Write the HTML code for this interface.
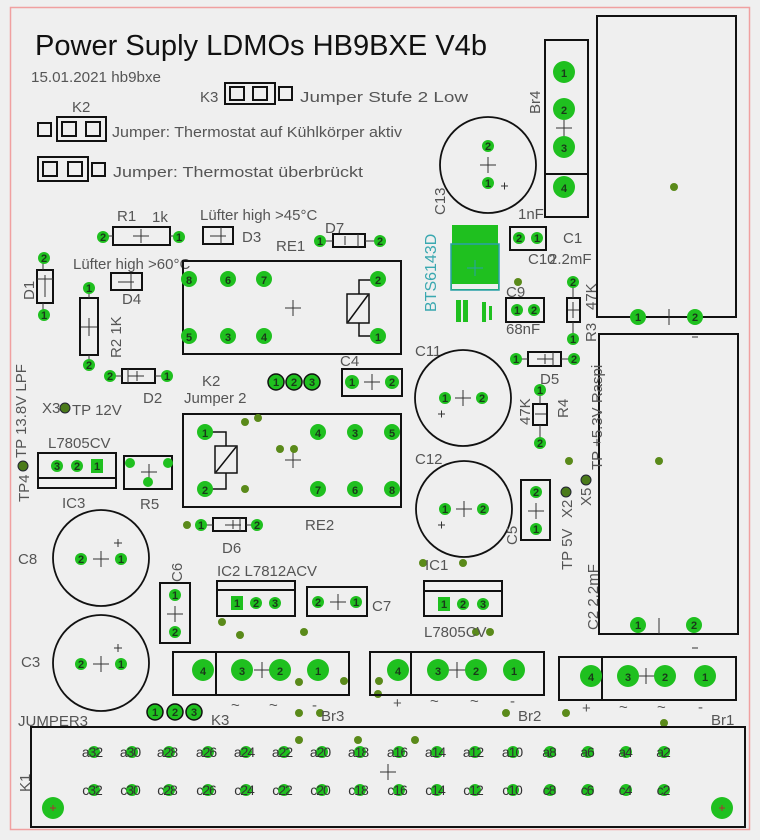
<!DOCTYPE html>
<html><head><meta charset="utf-8"><style>
html,body{margin:0;padding:0;background:#efefef;}
svg{display:block;font-family:"Liberation Sans",sans-serif;}
.o{fill:none;stroke:#111;stroke-width:2}
.t{fill:#555;font-size:15px}
.p{fill:#1fc01f}
.n{fill:#1a3a1a;font-size:11px;font-weight:bold;text-anchor:middle}
.d{fill:#5a8a1a}
.x{stroke:#333;stroke-width:1;fill:none}
.k{fill:#333;font-size:14px;text-anchor:middle;letter-spacing:-1px}
</style></head><body>
<svg width="760" height="840" viewBox="0 0 760 840" xmlns="http://www.w3.org/2000/svg">
<rect width="760" height="840" fill="#efefef"/>
<rect x="10.5" y="7.5" width="739" height="822" fill="none" stroke="#f0a0a0" stroke-width="1.5"/>

<text x="35" y="55" font-size="29" fill="#111" textLength="452" lengthAdjust="spacingAndGlyphs">Power Suply LDMOs HB9BXE V4b</text>
<text x="31" y="82" class="t" font-size="14" textLength="130" lengthAdjust="spacingAndGlyphs">15.01.2021 hb9bxe</text>

<!-- K3 jumper top -->
<text x="200" y="102" class="t" font-size="16">K3</text>
<rect x="225" y="83" width="50" height="21" class="o"/>
<rect x="230" y="87" width="14" height="13" class="o"/><rect x="253" y="87" width="14" height="13" class="o"/><rect x="279" y="87" width="13" height="13" class="o"/>
<text x="300" y="102" class="t" font-size="16" textLength="168" lengthAdjust="spacingAndGlyphs">Jumper  Stufe 2 Low</text>

<text x="72" y="112" class="t" font-size="16">K2</text>
<rect x="38" y="123" width="13" height="13" class="o"/>
<rect x="57" y="117" width="49" height="24" class="o"/>
<rect x="62" y="122" width="14" height="14" class="o"/><rect x="86" y="122" width="14" height="14" class="o"/>
<text x="112" y="137" class="t" font-size="16" textLength="290" lengthAdjust="spacingAndGlyphs">Jumper: Thermostat auf Kühlkörper aktiv</text>

<rect x="38" y="157" width="50" height="24" class="o"/>
<rect x="43" y="162" width="14" height="14" class="o"/><rect x="68" y="162" width="14" height="14" class="o"/>
<rect x="92" y="163" width="13" height="13" class="o"/>
<text x="113" y="177" class="t" font-size="16" textLength="250" lengthAdjust="spacingAndGlyphs">Jumper: Thermostat überbrückt</text>

<!-- R1 -->
<text x="117" y="221" class="t" font-size="16">R1</text><text x="152" y="222" class="t" font-size="14">1k</text>
<rect x="113" y="227" width="57" height="18" class="o"/>
<path d="M103 236h10M170 236h9M133 236h16M141 229v14" class="x"/>
<circle cx="103" cy="237" r="6" class="p"/><text x="103" y="241" class="n">2</text>
<circle cx="179" cy="237" r="6" class="p"/><text x="179" y="241" class="n">1</text>
<!-- D3 -->
<text x="200" y="220" class="t" font-size="11">Lüfter high &gt;45°C</text>
<rect x="203" y="227" width="30" height="17" class="o"/><path d="M221 227v17M210 236h16" class="x"/>
<text x="242" y="242" class="t" font-size="11">D3</text>
<text x="276" y="251" class="t" font-size="16">RE1</text>
<!-- D7 -->
<text x="325" y="233" class="t" font-size="16">D7</text>
<rect x="333" y="234" width="32" height="13" class="o"/><path d="M320 241h13M365 241h15M358 234v13M345 236v9" class="x"/>
<circle cx="320" cy="241" r="6" class="p"/><text x="320" y="245" class="n">1</text>
<circle cx="380" cy="241" r="6" class="p"/><text x="380" y="245" class="n">2</text>

<!-- D1 -->
<rect x="37" y="270" width="16" height="33" class="o"/><path d="M43 258v12M43 303v12M37 279h16M45 275v22" class="x"/>
<circle cx="44" cy="258" r="6" class="p"/><text x="44" y="262" class="n">2</text>
<circle cx="44" cy="315" r="6" class="p"/><text x="44" y="319" class="n">1</text>
<text transform="translate(34,300) rotate(-90)" class="t" font-size="15">D1</text>
<!-- D4 -->
<text x="73" y="269" class="t" font-size="11">Lüfter high &gt;60°C</text>
<rect x="111" y="273" width="31" height="17" class="o"/><path d="M131 273v17M118 282h16" class="x"/>
<text x="122" y="304" class="t" font-size="11">D4</text>
<!-- R2 -->
<rect x="80" y="298" width="18" height="57" class="o"/><path d="M89 288v10M89 355v10M81 327h16M89 318v18" class="x"/>
<circle cx="89" cy="288" r="6" class="p"/><text x="89" y="292" class="n">1</text>
<circle cx="89" cy="365" r="6" class="p"/><text x="89" y="369" class="n">2</text>
<text transform="translate(121,358) rotate(-90)" class="t" font-size="15">R2 1K</text>

<!-- RE1 -->
<rect x="183" y="261" width="218" height="93" class="o"/>
<path d="M285 308h16M293 300v16" class="x"/>
<g><circle cx="189" cy="279" r="8" class="p"/><text x="189" y="284" class="n" font-size="13">8</text>
<circle cx="228" cy="279" r="8" class="p"/><text x="228" y="284" class="n" font-size="13">6</text>
<circle cx="264" cy="279" r="8" class="p"/><text x="264" y="284" class="n" font-size="13">7</text>
<circle cx="189" cy="336" r="8" class="p"/><text x="189" y="341" class="n" font-size="13">5</text>
<circle cx="228" cy="336" r="8" class="p"/><text x="228" y="341" class="n" font-size="13">3</text>
<circle cx="264" cy="336" r="8" class="p"/><text x="264" y="341" class="n" font-size="13">4</text></g>
<rect x="347" y="294" width="22" height="29" fill="none" stroke="#111" stroke-width="1.5"/><path d="M348 322l20-27M359 294v-14h18M359 323v13h18" fill="none" stroke="#111" stroke-width="1.5"/>
<circle cx="378" cy="279" r="8" class="p"/><text x="378" y="284" class="n" font-size="13">2</text>
<circle cx="378" cy="336" r="8" class="p"/><text x="378" y="341" class="n" font-size="13">1</text>

<!-- D2 -->
<rect x="122" y="369" width="33" height="14" class="o"/><path d="M110 376h12M155 376h12M128 369v14M128 376h16M137 371v10" class="x"/>
<circle cx="110" cy="376" r="6" class="p"/><text x="110" y="380" class="n">2</text>
<circle cx="167" cy="376" r="6" class="p"/><text x="167" y="380" class="n">1</text>
<text x="143" y="403" class="t" font-size="16">D2</text>
<text x="202" y="386" class="t" font-size="16">K2</text>
<text x="184" y="403" class="t" font-size="16">Jumper 2</text>
<g stroke="#111" stroke-width="1.5"><circle cx="276" cy="382" r="8" class="p"/><circle cx="294" cy="382" r="8" class="p"/><circle cx="312" cy="382" r="8" class="p"/></g>
<text x="276" y="386" class="n">1</text><text x="294" y="386" class="n">2</text><text x="312" y="386" class="n">3</text>
<!-- C4 -->
<text x="340" y="366" class="t" font-size="16">C4</text>
<rect x="342" y="369" width="60" height="27" class="o"/><path d="M364 382h16M372 374v16" class="x"/>
<circle cx="352" cy="382" r="7" class="p"/><text x="352" y="386" class="n">1</text>
<circle cx="392" cy="382" r="7" class="p"/><text x="392" y="386" class="n">2</text>

<!-- left TPs -->
<text transform="translate(26,458) rotate(-90)" class="t" font-size="15">TP 13.8V LPF</text>
<text x="42" y="413" class="t" font-size="11">X3</text>
<circle cx="65" cy="408" r="5" fill="#4a7a1a" stroke="#223" stroke-width="1"/>
<text x="72" y="415" class="t" font-size="16">TP 12V</text>
<circle cx="23" cy="466" r="5" fill="#4a7a1a" stroke="#223" stroke-width="1"/>
<text transform="translate(29,502) rotate(-90)" class="t" font-size="11">TP4</text>
<!-- IC3 -->
<text x="48" y="448" class="t" font-size="16">L7805CV</text>
<rect x="38" y="453" width="78" height="35" class="o"/><path d="M38 478h78" class="o"/>
<circle cx="57" cy="466" r="6" class="p"/><text x="57" y="470" class="n">3</text>
<circle cx="77" cy="466" r="6" class="p"/><text x="77" y="470" class="n">2</text>
<rect x="91" y="459" width="12" height="14" class="p"/><text x="97" y="470" class="n">1</text>
<text x="62" y="508" class="t" font-size="16">IC3</text>
<!-- R5 -->
<rect x="124" y="456" width="48" height="33" class="o"/><path d="M141 472h16M149 464v16" class="x"/>
<circle cx="130" cy="463" r="5" class="p"/><circle cx="168" cy="463" r="5" class="p"/><circle cx="148" cy="482" r="5" class="p"/>
<text x="140" y="509" class="t" font-size="13">R5</text>

<!-- RE2 -->
<rect x="183" y="414" width="218" height="93" class="o"/>
<path d="M285 460h16M293 452v16" class="x"/>
<rect x="215" y="446" width="22" height="27" fill="none" stroke="#111" stroke-width="1.5"/><path d="M216 472l20-25M226 446v-14h-20M226 473v16h-20" fill="none" stroke="#111" stroke-width="1.5"/>
<g font-size="13">
<circle cx="205" cy="432" r="8" class="p"/><text x="205" y="437" class="n" font-size="13">1</text>
<circle cx="205" cy="489" r="8" class="p"/><text x="205" y="494" class="n" font-size="13">2</text>
<circle cx="318" cy="432" r="8" class="p"/><text x="318" y="437" class="n" font-size="13">4</text>
<circle cx="355" cy="432" r="8" class="p"/><text x="355" y="437" class="n" font-size="13">3</text>
<circle cx="392" cy="432" r="8" class="p"/><text x="392" y="437" class="n" font-size="13">5</text>
<circle cx="318" cy="489" r="8" class="p"/><text x="318" y="494" class="n" font-size="13">7</text>
<circle cx="355" cy="489" r="8" class="p"/><text x="355" y="494" class="n" font-size="13">6</text>
<circle cx="392" cy="489" r="8" class="p"/><text x="392" y="494" class="n" font-size="13">8</text></g>
<g class="d"><circle cx="245" cy="422" r="4"/><circle cx="258" cy="418" r="4"/><circle cx="280" cy="449" r="4"/><circle cx="294" cy="449" r="4"/><circle cx="245" cy="489" r="4"/><circle cx="187" cy="525" r="4"/></g>
<text x="305" y="530" class="t" font-size="16">RE2</text>
<!-- D6 -->
<rect x="213" y="518" width="33" height="13" class="o"/><path d="M200 525h13M246 525h11M240 518v13M225 525h16M233 520v9" class="x"/>
<circle cx="201" cy="525" r="6" class="p"/><text x="201" y="529" class="n">1</text>
<circle cx="257" cy="525" r="6" class="p"/><text x="257" y="529" class="n">2</text>
<text x="222" y="553" class="t" font-size="16">D6</text>

<!-- C8, C3 -->
<circle cx="101" cy="558" r="48" fill="none" stroke="#111" stroke-width="1.8"/>
<path d="M93 559h16M101 551v16M114 543h8M118 539v8" class="x"/>
<circle cx="81" cy="559" r="6" class="p"/><text x="81" y="563" class="n">2</text>
<circle cx="121" cy="559" r="6" class="p"/><text x="121" y="563" class="n">1</text>
<text x="18" y="564" class="t" font-size="16">C8</text>
<circle cx="101" cy="663" r="48" fill="none" stroke="#111" stroke-width="1.8"/>
<path d="M93 664h16M101 656v16M114 648h8M118 644v8" class="x"/>
<circle cx="81" cy="664" r="6" class="p"/><text x="81" y="668" class="n">2</text>
<circle cx="121" cy="664" r="6" class="p"/><text x="121" y="668" class="n">1</text>
<text x="21" y="667" class="t" font-size="16">C3</text>
<!-- C6 -->
<text transform="translate(182,582) rotate(-90)" class="t" font-size="16">C6</text>
<rect x="160" y="583" width="30" height="60" class="o"/><path d="M167 614h16M175 606v16" class="x"/>
<circle cx="175" cy="595" r="6" class="p"/><text x="175" y="599" class="n">1</text>
<circle cx="175" cy="632" r="6" class="p"/><text x="175" y="636" class="n">2</text>
<!-- IC2 -->
<text x="217" y="576" class="t" font-size="16">IC2 L7812ACV</text>
<rect x="217" y="581" width="78" height="35" class="o"/><path d="M217 590h78" class="o"/>
<rect x="231" y="596" width="12" height="14" class="p"/><text x="237" y="607" class="n">1</text>
<circle cx="256" cy="603" r="6" class="p"/><text x="256" y="607" class="n">2</text>
<circle cx="275" cy="603" r="6" class="p"/><text x="275" y="607" class="n">3</text>
<!-- C7 -->
<rect x="307" y="587" width="60" height="29" class="o"/><path d="M330 602h16M338 594v16" class="x"/>
<circle cx="318" cy="602" r="6" class="p"/><text x="318" y="606" class="n">2</text>
<circle cx="356" cy="602" r="6" class="p"/><text x="356" y="606" class="n">1</text>
<text x="372" y="611" class="t" font-size="16">C7</text>
<g class="d"><circle cx="222" cy="622" r="4"/><circle cx="240" cy="635" r="4"/><circle cx="304" cy="632" r="4"/><circle cx="299" cy="682" r="4"/><circle cx="344" cy="681" r="4"/><circle cx="379" cy="681" r="4"/><circle cx="378" cy="694" r="4"/><circle cx="299" cy="713" r="4"/><circle cx="320" cy="713" r="4"/><circle cx="299" cy="740" r="4"/><circle cx="358" cy="740" r="4"/><circle cx="415" cy="740" r="4"/><circle cx="506" cy="713" r="4"/><circle cx="566" cy="713" r="4"/><circle cx="664" cy="723" r="4"/><circle cx="423" cy="563" r="4"/><circle cx="463" cy="563" r="4"/><circle cx="476" cy="632" r="4"/><circle cx="490" cy="632" r="4"/><circle cx="569" cy="461" r="4"/><circle cx="518" cy="282" r="4"/><circle cx="659" cy="461" r="4"/><circle cx="674" cy="187" r="4"/></g>

<!-- Br3 -->
<rect x="173" y="652" width="176" height="43" class="o"/><path d="M216 652v43" class="o"/>
<path d="M254 670h16M262 662v16" class="x"/>
<circle cx="203" cy="670" r="11" class="p"/><text x="203" y="675" class="n" font-size="13">4</text>
<circle cx="242" cy="670" r="11" class="p"/><text x="242" y="675" class="n" font-size="13">3</text>
<circle cx="280" cy="670" r="11" class="p"/><text x="280" y="675" class="n" font-size="13">2</text>
<circle cx="318" cy="670" r="11" class="p"/><text x="318" y="675" class="n" font-size="13">1</text>
<text x="231" y="710" class="t" font-size="14">~</text><text x="269" y="710" class="t" font-size="14">~</text><text x="312" y="710" class="t" font-size="14">-</text>
<text x="321" y="721" class="t" font-size="16">Br3</text>
<!-- K3 bottom -->
<g stroke="#111" stroke-width="1.5"><circle cx="155" cy="712" r="8" class="p"/><circle cx="175" cy="712" r="8" class="p"/><circle cx="194" cy="712" r="8" class="p"/></g>
<text x="155" y="716" class="n">1</text><text x="175" y="716" class="n">2</text><text x="194" y="716" class="n">3</text>
<text x="211" y="725" class="t" font-size="16">K3</text>
<text x="18" y="726" class="t" font-size="16">JUMPER3</text>

<!-- Br2 -->
<rect x="370" y="652" width="174" height="43" class="o"/><path d="M411 652v43" class="o"/>
<path d="M449 670h16M457 662v16" class="x"/>
<circle cx="398" cy="670" r="11" class="p"/><text x="398" y="675" class="n" font-size="13">4</text>
<circle cx="438" cy="670" r="11" class="p"/><text x="438" y="675" class="n" font-size="13">3</text>
<circle cx="476" cy="670" r="11" class="p"/><text x="476" y="675" class="n" font-size="13">2</text>
<circle cx="514" cy="670" r="11" class="p"/><text x="514" y="675" class="n" font-size="13">1</text>
<text x="393" y="708" class="t" font-size="12">+</text><text x="430" y="706" class="t" font-size="14">~</text><text x="470" y="706" class="t" font-size="14">~</text><text x="510" y="706" class="t" font-size="14">-</text>
<text x="518" y="721" class="t" font-size="16">Br2</text>
<!-- Br1 -->
<rect x="559" y="657" width="177" height="43" class="o"/><path d="M602 657v43" class="o"/>
<path d="M638 676h16M646 668v16" class="x"/>
<circle cx="591" cy="676" r="11" class="p"/><text x="591" y="681" class="n" font-size="13">4</text>
<circle cx="628" cy="676" r="11" class="p"/><text x="628" y="681" class="n" font-size="13">3</text>
<circle cx="665" cy="676" r="11" class="p"/><text x="665" y="681" class="n" font-size="13">2</text>
<circle cx="705" cy="676" r="11" class="p"/><text x="705" y="681" class="n" font-size="13">1</text>
<text x="582" y="713" class="t" font-size="12">+</text><text x="619" y="712" class="t" font-size="14">~</text><text x="657" y="712" class="t" font-size="14">~</text><text x="698" y="712" class="t" font-size="14">-</text>
<text x="711" y="725" class="t" font-size="16">Br1</text>

<!-- K1 -->
<rect x="31" y="727" width="714" height="100" class="o"/>
<text transform="translate(30,792) rotate(-90)" class="t" font-size="16">K1</text>
<path d="M380 772h16M388 764v16" class="x"/>
<circle cx="53" cy="808" r="11" class="p"/><circle cx="722" cy="808" r="11" class="p"/>
<path d="M50 808h6M53 805v6M719 808h6M722 805v6" stroke="#a33" stroke-width="1"/>
<g class="p">
<circle cx="94" cy="752" r="6"/><circle cx="132" cy="752" r="6"/><circle cx="169" cy="752" r="6"/><circle cx="208" cy="752" r="6"/><circle cx="246" cy="752" r="6"/><circle cx="284" cy="752" r="6"/><circle cx="322" cy="752" r="6"/><circle cx="360" cy="752" r="6"/><circle cx="399" cy="752" r="6"/><circle cx="437" cy="752" r="6"/><circle cx="475" cy="752" r="6"/><circle cx="513" cy="752" r="6"/><circle cx="550" cy="752" r="6"/><circle cx="588" cy="752" r="6"/><circle cx="626" cy="752" r="6"/><circle cx="664" cy="752" r="6"/>
<circle cx="94" cy="790" r="6"/><circle cx="132" cy="790" r="6"/><circle cx="169" cy="790" r="6"/><circle cx="208" cy="790" r="6"/><circle cx="246" cy="790" r="6"/><circle cx="284" cy="790" r="6"/><circle cx="322" cy="790" r="6"/><circle cx="360" cy="790" r="6"/><circle cx="399" cy="790" r="6"/><circle cx="437" cy="790" r="6"/><circle cx="475" cy="790" r="6"/><circle cx="513" cy="790" r="6"/><circle cx="550" cy="790" r="6"/><circle cx="588" cy="790" r="6"/><circle cx="626" cy="790" r="6"/><circle cx="664" cy="790" r="6"/>
</g>
<g class="k">
<text x="92" y="757">a32</text><text x="130" y="757">a30</text><text x="167" y="757">a28</text><text x="206" y="757">a26</text><text x="244" y="757">a24</text><text x="282" y="757">a22</text><text x="320" y="757">a20</text><text x="358" y="757">a18</text><text x="397" y="757">a16</text><text x="435" y="757">a14</text><text x="473" y="757">a12</text><text x="512" y="757">a10</text><text x="549" y="757">a8</text><text x="587" y="757">a6</text><text x="625" y="757">a4</text><text x="663" y="757">a2</text>
<text x="92" y="795">c32</text><text x="130" y="795">c30</text><text x="167" y="795">c28</text><text x="206" y="795">c26</text><text x="244" y="795">c24</text><text x="282" y="795">c22</text><text x="320" y="795">c20</text><text x="358" y="795">c18</text><text x="397" y="795">c16</text><text x="435" y="795">c14</text><text x="473" y="795">c12</text><text x="512" y="795">c10</text><text x="549" y="795">c8</text><text x="587" y="795">c6</text><text x="625" y="795">c4</text><text x="663" y="795">c2</text>
</g>

<!-- C13 -->
<circle cx="488" cy="165" r="48" fill="none" stroke="#111" stroke-width="1.8"/>
<path d="M480 165h16M488 157v16M501 186h7M504.5 182.5v7" class="x"/>
<circle cx="488" cy="146" r="6" class="p"/><text x="488" y="150" class="n">2</text>
<circle cx="488" cy="183" r="6" class="p"/><text x="488" y="187" class="n">1</text>
<text transform="translate(445,215) rotate(-90)" class="t" font-size="16">C13</text>
<!-- Br4 -->
<rect x="545" y="40" width="43" height="177" class="o"/><path d="M545 174h43" class="o"/>
<path d="M556 128h16M564 120v16" class="x"/>
<circle cx="564" cy="72" r="11" class="p"/><text x="564" y="77" class="n" font-size="13">1</text>
<circle cx="564" cy="109" r="11" class="p"/><text x="564" y="114" class="n" font-size="13">2</text>
<circle cx="564" cy="147" r="11" class="p"/><text x="564" y="152" class="n" font-size="13">3</text>
<circle cx="564" cy="187" r="11" class="p"/><text x="564" y="192" class="n" font-size="13">4</text>
<text transform="translate(540,114) rotate(-90)" class="t" font-size="16">Br4</text>
<!-- C1 big -->
<rect x="597" y="16" width="139" height="301" class="o"/>
<path d="M669 309v16" class="x"/><path d="M692 337h6" class="x"/>
<circle cx="638" cy="317" r="8" class="p"/><text x="638" y="321" class="n">1</text>
<circle cx="695" cy="317" r="8" class="p"/><text x="695" y="321" class="n">2</text>
<!-- C2 big -->
<rect x="599" y="334" width="139" height="300" class="o"/>
<path d="M659 618v16M692 648h6" class="x"/>
<circle cx="638" cy="625" r="8" class="p"/><text x="638" y="629" class="n">1</text>
<circle cx="694" cy="625" r="8" class="p"/><text x="694" y="629" class="n">2</text>

<!-- BTS -->
<rect x="452" y="225" width="46" height="20" fill="#1fc01f"/>
<rect x="451" y="244" width="48" height="46" fill="#1fc01f" stroke="#2aa0a8" stroke-width="1.5"/>
<rect x="452" y="284" width="46" height="5" fill="#efefef"/>
<path d="M467 268h16M475 260v16" stroke="#2aa0a8" stroke-width="1" fill="none"/>
<rect x="456" y="300" width="5" height="22" fill="#1fc01f"/><rect x="463" y="300" width="5" height="22" fill="#1fc01f"/>
<rect x="482" y="302" width="4" height="20" fill="#1fc01f"/><rect x="489" y="306" width="3" height="14" fill="#1fc01f"/>
<text transform="translate(436,312) rotate(-90)" font-size="16" fill="#3aa8b0">BTS6143D</text>
<!-- C10 -->
<text x="518" y="219" class="t" font-size="12">1nF</text>
<rect x="510" y="227" width="36" height="23" class="o"/>
<circle cx="519" cy="238" r="6" class="p"/><text x="519" y="242" class="n">2</text>
<circle cx="537" cy="238" r="6" class="p"/><text x="537" y="242" class="n">1</text>
<text x="528" y="264" class="t" font-size="13">C10</text>
<text x="563" y="243" class="t" font-size="16">C1</text>
<text x="549" y="264" class="t" font-size="16">2.2mF</text>
<!-- C9 -->
<text x="506" y="297" class="t" font-size="14">C9</text>
<rect x="506" y="298" width="38" height="24" class="o"/>
<circle cx="517" cy="310" r="6" class="p"/><text x="517" y="314" class="n">1</text>
<circle cx="534" cy="310" r="6" class="p"/><text x="534" y="314" class="n">2</text>
<text x="506" y="334" class="t" font-size="12">68nF</text>
<!-- R3 -->
<rect x="567" y="298" width="13" height="24" class="o"/><path d="M573 282v16M573 322v17M568 310h11M573 302v16" class="x"/>
<circle cx="573" cy="282" r="6" class="p"/><text x="573" y="286" class="n">2</text>
<circle cx="573" cy="339" r="6" class="p"/><text x="573" y="343" class="n">1</text>
<text transform="translate(596,310) rotate(-90)" class="t" font-size="14">47K</text>
<text transform="translate(596,342) rotate(-90)" class="t" font-size="14">R3</text>
<!-- D5 -->
<rect x="528" y="352" width="33" height="14" class="o"/><path d="M516 359h12M561 359h13M553 352v14M537 359h16M545 354v10" class="x"/>
<circle cx="516" cy="359" r="6" class="p"/><text x="516" y="363" class="n">1</text>
<circle cx="574" cy="359" r="6" class="p"/><text x="574" y="363" class="n">2</text>
<text x="540" y="384" class="t" font-size="16">D5</text>
<!-- R4 -->
<rect x="533" y="404" width="14" height="21" class="o"/><path d="M540 390v14M540 425v18M535 414h11" class="x"/>
<circle cx="540" cy="390" r="6" class="p"/><text x="540" y="394" class="n">1</text>
<circle cx="540" cy="443" r="6" class="p"/><text x="540" y="447" class="n">2</text>
<text transform="translate(530,425) rotate(-90)" class="t" font-size="14">47K</text>
<text transform="translate(568,418) rotate(-90)" class="t" font-size="14">R4</text>
<text transform="translate(602,470) rotate(-90)" class="t" font-size="15">TP +5.3V Raspi</text>
<circle cx="586" cy="480" r="5" fill="#4a7a1a" stroke="#223"/>
<circle cx="566" cy="492" r="5" fill="#4a7a1a" stroke="#223"/>
<text transform="translate(591,506) rotate(-90)" class="t" font-size="11">X5</text>
<text transform="translate(572,518) rotate(-90)" class="t" font-size="11">X2</text>
<text transform="translate(572,570) rotate(-90)" class="t" font-size="15">TP 5V</text>
<text transform="translate(598,630) rotate(-90)" class="t" font-size="15">C2  2.2mF</text>

<!-- C11 -->
<text x="415" y="356" class="t" font-size="16">C11</text>
<circle cx="463" cy="398" r="48" fill="none" stroke="#111" stroke-width="1.8"/>
<path d="M455 398h16M463 390v16M438 414h7M441.5 410.5v7" class="x"/>
<circle cx="445" cy="398" r="6" class="p"/><text x="445" y="402" class="n">1</text>
<circle cx="482" cy="398" r="6" class="p"/><text x="482" y="402" class="n">2</text>
<!-- C12 -->
<text x="415" y="464" class="t" font-size="16">C12</text>
<circle cx="464" cy="509" r="48" fill="none" stroke="#111" stroke-width="1.8"/>
<path d="M456 509h16M464 501v16M438 525h7M441.5 521.5v7" class="x"/>
<circle cx="445" cy="509" r="6" class="p"/><text x="445" y="513" class="n">1</text>
<circle cx="483" cy="509" r="6" class="p"/><text x="483" y="513" class="n">2</text>
<!-- C5 -->
<rect x="521" y="480" width="29" height="60" class="o"/><path d="M528 511h16M536 503v16" class="x"/>
<circle cx="536" cy="492" r="6" class="p"/><text x="536" y="496" class="n">2</text>
<circle cx="536" cy="529" r="6" class="p"/><text x="536" y="533" class="n">1</text>
<text transform="translate(517,545) rotate(-90)" class="t" font-size="16">C5</text>
<!-- IC1 -->
<text x="425" y="570" class="t" font-size="16">IC1</text>
<rect x="424" y="581" width="78" height="35" class="o"/><path d="M424 591h78" class="o"/>
<rect x="438" y="597" width="12" height="14" class="p"/><text x="444" y="608" class="n">1</text>
<circle cx="463" cy="604" r="6" class="p"/><text x="463" y="608" class="n">2</text>
<circle cx="483" cy="604" r="6" class="p"/><text x="483" y="608" class="n">3</text>
<text x="424" y="637" class="t" font-size="16">L7805CV</text>
</svg>
</body></html>
